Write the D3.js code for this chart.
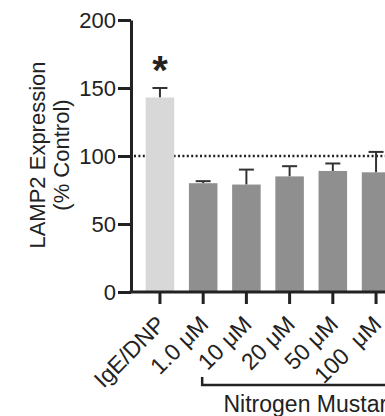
<!DOCTYPE html>
<meta charset="utf-8">
<title>LAMP2 Expression</title>
<style>
body {
  margin: 0px;
  background: #fff;
}
svg {
  display: block;
  font-family: "Liberation Sans", Arial, sans-serif;
}
.axis path, .axis line {
  stroke: #222;
  stroke-width: 3px;
}
.axis text {
  font-size: 22px;
  fill: #222;
  white-space: pre;
}
</style>
<script src="https://d3js.org/d3.v7.min.js"></script>
<body>
<script>
var width = 385, height = 416;

// data
var groups = ["IgE/DNP", "1.0 μM", "10 μM", "20 μM", "50 μM", "100  μM"];
var means = [143, 80, 79, 85, 89, 88];
var errors = [7, 1.5, 11, 7.5, 5.5, 15];
var barColors = ["#d8d8d8", "#8f8f8f", "#8f8f8f", "#8f8f8f", "#8f8f8f", "#8f8f8f"];
var yTicks = [0, 50, 100, 150, 200];
var controlLevel = 100;
var significant = ["IgE/DNP"];

var svg = d3.select("body").append("svg")
    .attr("width", width)
    .attr("height", height);

var x = d3.scaleBand()
    .domain(groups)
    .range([131, 405])
    .paddingInner(0.34)
    .paddingOuter(0.34);

var y = d3.scaleLinear()
    .domain([0, 200])
    .range([292, 20]);

// control reference line (drawn behind bars)
svg.append("line")
    .attr("x1", 134)
    .attr("x2", width + 20)
    .attr("y1", y(controlLevel))
    .attr("y2", y(controlLevel))
    .attr("stroke", "#222")
    .attr("stroke-width", 2.4)
    .attr("stroke-dasharray", "2,2.4");

// error bars (upper only)
var err = svg.append("g")
    .selectAll("g")
    .data(groups)
  .enter().append("g")
    .attr("stroke", "#333")
    .attr("stroke-width", 2);
err.append("line")
    .attr("x1", function(d) { return x(d) + x.bandwidth() / 2; })
    .attr("x2", function(d) { return x(d) + x.bandwidth() / 2; })
    .attr("y1", function(d, i) { return y(means[i]); })
    .attr("y2", function(d, i) { return y(means[i] + errors[i]); });
err.append("line")
    .attr("x1", function(d) { return x(d) + x.bandwidth() / 2 - 7.5; })
    .attr("x2", function(d) { return x(d) + x.bandwidth() / 2 + 7.5; })
    .attr("y1", function(d, i) { return y(means[i] + errors[i]); })
    .attr("y2", function(d, i) { return y(means[i] + errors[i]); });

svg.append("g")
    .selectAll("rect")
    .data(groups)
  .enter().append("rect")
    .attr("x", function(d) { return x(d); })
    .attr("width", x.bandwidth())
    .attr("y", function(d, i) { return y(means[i]); })
    .attr("height", function(d, i) { return y(0) - y(means[i]); })
    .attr("fill", function(d, i) { return barColors[i]; });

// significance marker
svg.selectAll("text.star")
    .data(significant)
  .enter().append("text")
    .attr("class", "star")
    .attr("x", function(d) { return x(d) + x.bandwidth() / 2; })
    .attr("y", function(d) { var i = groups.indexOf(d); return y(means[i] + errors[i]) - 4; })
    .attr("text-anchor", "middle")
    .style("font-size", "40px")
    .style("font-weight", "bold")
    .attr("fill", "#222")
    .text("*");

// y axis
var yAxis = svg.append("g")
    .attr("class", "axis")
    .attr("transform", "translate(131,0)")
    .call(d3.axisLeft(y).tickValues(yTicks).tickSize(13).tickPadding(2).tickSizeOuter(0));
yAxis.selectAll("text").attr("dy", "0.36em");

// x axis
var xAxis = svg.append("g")
    .attr("class", "axis")
    .attr("transform", "translate(0," + y(0) + ")")
    .call(d3.axisBottom(x).tickSize(12).tickSizeOuter(0));
xAxis.select(".domain").attr("d", "M129.5,0H" + (width + 20));
xAxis.selectAll("text")
    .attr("text-anchor", "end")
    .attr("transform", "translate(1,28) rotate(-45)")
    .attr("x", 0)
    .attr("y", 0)
    .attr("dy", "0.35em")
    .style("font-size", "23px");

// y axis title
var yTitle = svg.append("text")
    .attr("transform", "translate(0,155) rotate(-90)")
    .attr("text-anchor", "middle")
    .style("font-size", "22px")
    .attr("fill", "#222");
yTitle.append("tspan").attr("x", 0).attr("y", 45).text("LAMP2 Expression");
yTitle.append("tspan").attr("x", 0).attr("y", 69).text("(% Control)");

// treatment bracket; it runs one step past the last visible group, off the right edge
var bx1 = x(groups[1]) + x.bandwidth() / 2 - 1;
var bx2 = x(groups[groups.length - 1]) + x.bandwidth() / 2 + x.step();
svg.append("path")
    .attr("d", "M" + bx1 + ",377V385H" + bx2 + "V377")
    .attr("fill", "none")
    .attr("stroke", "#222")
    .attr("stroke-width", 2.5);
svg.append("text")
    .attr("x", (bx1 + bx2) / 2 + 1)
    .attr("y", 412)
    .attr("text-anchor", "middle")
    .style("font-size", "23px")
    .attr("fill", "#222")
    .text("Nitrogen Mustard");
</script>
